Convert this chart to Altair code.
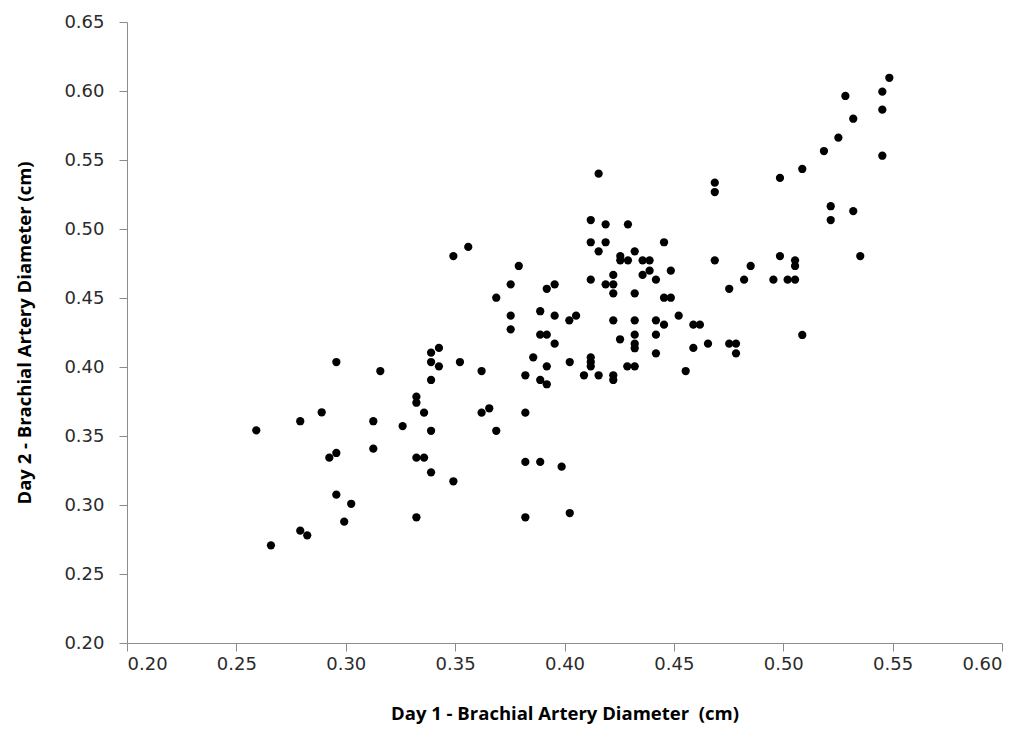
import altair as alt
import pandas as pd

day1 = [
    0.2957, 0.3158, 0.3323, 0.3323, 0.2890, 0.2792, 0.3126, 0.3260, 0.2591, 0.2957,
    0.2925, 0.3126, 0.3323, 0.3025, 0.2957, 0.2993, 0.3323, 0.2792, 0.2824, 0.2658,
    0.4156, 0.4120, 0.4188, 0.4120, 0.4188, 0.4156, 0.3560, 0.3492, 0.3791, 0.3754,
    0.3688, 0.3955, 0.3919, 0.4120, 0.4223, 0.4188, 0.4223, 0.4223, 0.3889, 0.3955,
    0.4053, 0.4022, 0.4223, 0.3754, 0.3754, 0.3889, 0.3919, 0.3955, 0.3426, 0.4255,
    0.4255, 0.4254, 0.4687, 0.4687, 0.4290, 0.4455, 0.4321, 0.4290, 0.4357, 0.4389,
    0.4389, 0.4357, 0.4486, 0.4418, 0.4687, 0.4753, 0.4321, 0.4455, 0.4486, 0.4522,
    0.4321, 0.4418, 0.4455, 0.4589, 0.4619, 0.4321, 0.4321, 0.4321, 0.4418, 0.4589,
    0.4656, 0.4753, 0.4784, 0.5485, 0.5453, 0.5284, 0.5453, 0.5320, 0.5252, 0.5186,
    0.5087, 0.4985, 0.5453, 0.5217, 0.5217, 0.5320, 0.5352, 0.4985, 0.5054, 0.5054,
    0.4851, 0.4821, 0.4955, 0.5020, 0.5054, 0.5087, 0.3390, 0.3390, 0.3426, 0.3522,
    0.3390, 0.3621, 0.3857, 0.3919, 0.4024, 0.4120, 0.4120, 0.4120, 0.3821, 0.3889,
    0.3919, 0.4089, 0.4156, 0.4223, 0.4223, 0.3358, 0.3621, 0.3656, 0.3821, 0.3390,
    0.3688, 0.3358, 0.3390, 0.3492, 0.3821, 0.3889, 0.3987, 0.3821, 0.4024, 0.4418,
    0.4784, 0.4287, 0.4321, 0.4554,
]

day2 = [
    0.4036, 0.3971, 0.3785, 0.3741, 0.3672, 0.3607, 0.3607, 0.3572, 0.3541, 0.3377,
    0.3343, 0.3408, 0.3343, 0.3009, 0.3075, 0.2879, 0.2911, 0.2814, 0.2780, 0.2708,
    0.5401, 0.5065, 0.5034, 0.4904, 0.4904, 0.4838, 0.4870, 0.4804, 0.4732, 0.4599,
    0.4502, 0.4599, 0.4567, 0.4633, 0.4667, 0.4599, 0.4599, 0.4534, 0.4404, 0.4372,
    0.4372, 0.4338, 0.4338, 0.4372, 0.4273, 0.4234, 0.4234, 0.4169, 0.4138, 0.4804,
    0.4773, 0.4201, 0.5336, 0.5268, 0.5034, 0.4904, 0.4838, 0.4773, 0.4773, 0.4773,
    0.4698, 0.4667, 0.4698, 0.4633, 0.4773, 0.4567, 0.4534, 0.4502, 0.4502, 0.4372,
    0.4338, 0.4338, 0.4307, 0.4307, 0.4307, 0.4234, 0.4169, 0.4136, 0.4234, 0.4138,
    0.4169, 0.4169, 0.4169, 0.6096, 0.5995, 0.5964, 0.5865, 0.5799, 0.5662, 0.5565,
    0.5435, 0.5370, 0.5531, 0.5165, 0.5065, 0.5130, 0.4804, 0.4804, 0.4773, 0.4732,
    0.4732, 0.4633, 0.4633, 0.4633, 0.4633, 0.4232, 0.4104, 0.4036, 0.4005, 0.4036,
    0.3906, 0.3971, 0.4070, 0.4005, 0.4036, 0.4070, 0.4036, 0.4005, 0.3940, 0.3906,
    0.3875, 0.3940, 0.3940, 0.3940, 0.3906, 0.3669, 0.3669, 0.3701, 0.3669, 0.3538,
    0.3538, 0.3343, 0.3237, 0.3172, 0.3312, 0.3312, 0.3278, 0.2911, 0.2942, 0.4099,
    0.4099, 0.4005, 0.4005, 0.3971,
]

x_ticks = [0.20, 0.25, 0.30, 0.35, 0.40, 0.45, 0.50, 0.55, 0.60]
y_ticks = [0.20, 0.25, 0.30, 0.35, 0.40, 0.45, 0.50, 0.55, 0.60, 0.65]

x_title = "Day 1 - Brachial Artery Diameter\u00a0 (cm)"
y_title = "Day 2 - Brachial Artery Diameter (cm)"

df = pd.DataFrame({"day1": day1, "day2": day2})

axis_common = dict(
    grid=False,
    domainColor="#8c8c8c",
    tickColor="#8c8c8c",
    tickSize=8,
    labelFont="DejaVu Sans",
    labelFontSize=18,
    labelColor="#2b2b2b",
    titleFont="Open Sans",
    titleFontSize=18.5,
    titleFontWeight="bold",
    titleColor="#000000",
    format=".2f",
)

chart = (
    alt.Chart(df)
    .mark_circle(size=68, color="#000000", opacity=1)
    .encode(
        x=alt.X(
            "day1:Q",
            scale=alt.Scale(domain=[0.2, 0.6], nice=False, zero=False),
            axis=alt.Axis(
                values=x_ticks,
                title=x_title,
                labelPadding=4,
                titlePadding=31,
                **axis_common,
            ),
        ),
        y=alt.Y(
            "day2:Q",
            scale=alt.Scale(domain=[0.2, 0.65], nice=False, zero=False),
            axis=alt.Axis(
                values=y_ticks,
                title=y_title,
                labelPadding=15,
                titlePadding=29,
                **axis_common,
            ),
        ),
    )
    .properties(
        width=875,
        height=621,
        padding={"left": 127, "top": 22, "right": 23, "bottom": 93},
        autosize=alt.AutoSizeParams(type="none"),
        background="#ffffff",
    )
    .configure_view(stroke=None)
)

chart.save("out.html", embed_options={"renderer": "svg", "actions": False})
